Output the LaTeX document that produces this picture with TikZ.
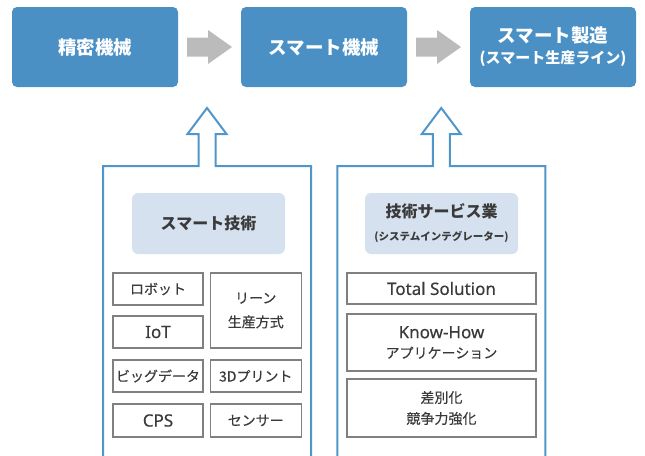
\documentclass[tikz,border=0pt]{standalone}
\usepackage{fontspec}
\setmainfont{Noto Sans CJK JP}
\newfontfamily\medf{Noto Sans CJK JP}[FakeBold=0.35]
\newfontfamily\latf{Noto Sans}[FakeBold=0.35]
\usetikzlibrary{calc}
\definecolor{topblue}{HTML}{4A90C4}
\definecolor{lineblue}{HTML}{4F96CA}
\definecolor{hdrfill}{HTML}{D6E1EF}
\definecolor{arrgray}{HTML}{BBBBBB}
\definecolor{boxgray}{HTML}{808080}
\definecolor{txtgray}{HTML}{3A3A3A}
\newcommand\latt[1]{{\latf\fontsize{17}{20}\selectfont #1}}
\begin{document}
\begin{tikzpicture}[x=1pt,y=-1pt,
  topbox/.style={fill=topblue, rounded corners=5pt, minimum width=166pt, minimum height=80pt,
    inner sep=0pt, text=white, font=\fontsize{18.5}{22}\selectfont\bfseries, align=center},
  hdr/.style={fill=hdrfill, rounded corners=6pt, minimum width=153pt, minimum height=61pt,
    inner sep=0pt, text=txtgray, font=\fontsize{16}{23}\selectfont\bfseries, align=center},
  cell/.style={draw=boxgray, line width=1.3pt, inner sep=0pt, text=txtgray,
    font=\medf\fontsize{14}{20}\selectfont, align=center},
  panel/.style={draw=lineblue, line width=2pt, line join=miter},
  grayarrow/.style={fill=arrgray}]
\useasboundingbox (0,0) rectangle (645,455);

% top row
\node[topbox] (b1) at (95,47) {精密機械};
\node[topbox] (b2) at (324,47) {スマート機械};
\node[topbox] (b3) at (553,47) {スマート製造\\[-1pt]{\fontsize{15}{18}\selectfont (スマート生産ライン)}};

% gray arrows between top boxes
\path (b1.east) -- (b2.west) coordinate[pos=0.5] (m1);
\path (b2.east) -- (b3.west) coordinate[pos=0.5] (m2);
\foreach \m in {m1,m2}{
  \fill[grayarrow] ($(\m)+(-22.5,-9.5)$) -- ($(\m)+(-1.5,-9.5)$) -- ($(\m)+(-1.5,-17)$)
    -- ($(\m)+(22.5,0)$) -- ($(\m)+(-1.5,17)$) -- ($(\m)+(-1.5,9.5)$)
    -- ($(\m)+(-22.5,9.5)$) -- cycle;
}

% panels with hollow up arrows
\coordinate (p1) at (207,166);
\coordinate (p2) at (441.25,166);
\foreach \p in {p1,p2}{
  \draw[panel] ($(\p)+(-104,300)$) -- ($(\p)+(-104,0)$) -- ($(\p)+(-8.5,0)$)
    -- ($(\p)+(-8.5,-32)$) -- ($(\p)+(-19.5,-32)$) -- ($(\p)+(0,-58)$)
    -- ($(\p)+(19.5,-32)$) -- ($(\p)+(8.5,-32)$) -- ($(\p)+(8.5,0)$)
    -- ($(\p)+(104,0)$) -- ($(\p)+(104,300)$);
}

% panel 1
\node[hdr] (h1) at (208.5,223.5) {スマート技術};
\node[cell, minimum width=90pt, minimum height=32pt] (c1) at (158,289) {ロボット};
\node[cell, minimum width=90pt, minimum height=32pt] (c2) at (158,332) {\latt{IoT}};
\node[cell, minimum width=91pt, minimum height=75pt] (c3) at (255.75,310.5) {リーン\\[4pt]生産方式};
\node[cell, minimum width=90pt, minimum height=32pt] (c4) at (158,376) {ビッグデータ};
\node[cell, minimum width=91pt, minimum height=32pt] (c5) at (255.75,376) {3Dプリント};
\node[cell, minimum width=90pt, minimum height=33pt] (c6) at (158,420.5) {\latt{CPS}};
\node[cell, minimum width=91pt, minimum height=33pt] (c7) at (255.75,420.5) {センサー};

% panel 2
\node[hdr] (h2) at (441.5,223.5) {技術サービス業\\{\fontsize{10.5}{12}\selectfont (システムインテグレーター)}};
\node[cell, minimum width=189pt, minimum height=31pt] (d1) at (441.5,288.5) {\latt{Total Solution}};
\node[cell, minimum width=189pt, minimum height=57pt] (d2) at (441.5,342.5) {\latt{Know-How}\\アプリケーション};
\node[cell, minimum width=189pt, minimum height=58pt] (d3) at (441.5,408) {差別化\\[1pt]競争力強化};
\end{tikzpicture}
\end{document}
